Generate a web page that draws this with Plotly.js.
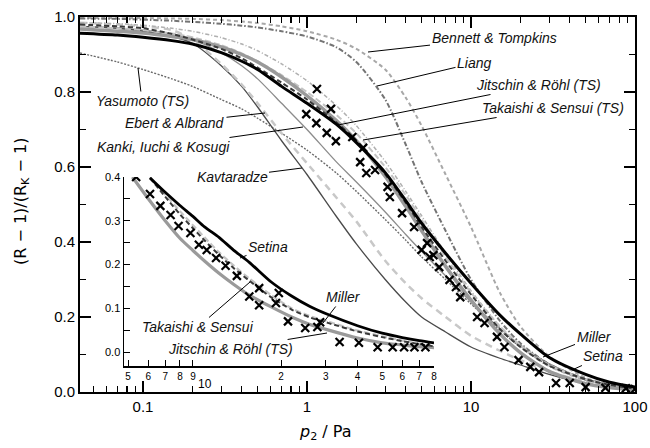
<!DOCTYPE html>
<html><head><meta charset="utf-8">
<script src="https://cdn.plot.ly/plotly-3.0.1.min.js"></script>
<style>html,body{margin:0;padding:0;background:#fff}</style>
</head><body><div id="chart" style="width:650px;height:448px"></div>
<script>
// ---- main plot data: p2 / Pa and (R-1)/(RK-1) ----
const pressure = [0.0413, 0.07, 0.1, 0.15, 0.2, 0.3, 0.4, 0.5, 0.7, 1, 1.5, 2, 3, 4, 5, 7, 10, 15, 20, 30, 50, 70, 100];
const setina      = [0.957,0.952,0.946,0.937,0.928,0.905,0.882,0.860,0.815,0.770,0.715,0.665,0.585,0.510,0.450,0.370,0.290,0.205,0.155,0.092,0.047,0.026,0.013];
const takaishi    = [0.968,0.962,0.957,0.948,0.940,0.920,0.900,0.880,0.840,0.790,0.725,0.670,0.575,0.495,0.430,0.335,0.245,0.155,0.105,0.055,0.022,0.012,0.006];
const miller      = [0.980,0.975,0.970,0.955,0.940,0.915,0.890,0.865,0.825,0.780,0.720,0.670,0.580,0.505,0.440,0.350,0.260,0.168,0.120,0.070,0.034,0.019,0.009];
const jitschin    = [0.975,0.970,0.965,0.956,0.946,0.925,0.903,0.882,0.845,0.800,0.740,0.690,0.600,0.525,0.460,0.360,0.265,0.175,0.125,0.072,0.034,0.019,0.009];
const takaishiTS  = [0.985,0.982,0.978,0.970,0.962,0.945,0.928,0.910,0.875,0.830,0.765,0.710,0.615,0.535,0.470,0.370,0.270,0.175,0.120,0.068,0.030,0.016,0.008];
const bennett     = [0.998,0.997,0.997,0.996,0.995,0.992,0.988,0.984,0.975,0.962,0.940,0.915,0.860,0.785,0.710,0.580,0.440,0.265,0.175,0.095,0.038,0.020,0.009];
const liang       = [0.996,0.995,0.993,0.990,0.987,0.982,0.977,0.972,0.962,0.948,0.920,0.880,0.780,0.660,0.560,0.430,0.300,0.190,0.130,0.074,0.034,0.018,0.008];
const kavtaradze  = [0.975,0.970,0.962,0.948,0.930,0.870,0.815,0.760,0.670,0.580,0.470,0.395,0.300,0.240,0.200,0.160,0.120,0.090,0.072,0.047,0.022,0.013,0.007];
const ebert       = [0.985,0.980,0.975,0.965,0.940,0.875,0.820,0.770,0.690,0.610,0.520,0.455,0.350,0.290,0.250,0.200,0.150,0.110,0.085,0.055,0.027,0.016,0.008];
const kanki       = [0.975,0.970,0.965,0.955,0.940,0.905,0.870,0.835,0.770,0.700,0.615,0.560,0.480,0.420,0.375,0.310,0.240,0.170,0.125,0.075,0.035,0.020,0.010];
const yasumoto    = [0.904,0.880,0.860,0.835,0.815,0.780,0.755,0.730,0.690,0.645,0.585,0.535,0.460,0.405,0.360,0.300,0.235,0.165,0.120,0.070,0.032,0.018,0.009];

const measP = [0.99,1.14,1.15,1.32,1.40,1.50,1.89,2.11,2.2,2.3,2.6,3.1,3.2,3.8,4.5,5.0,5.4,5.6,5.9,6.4,7.4,8.1,8.6,10.9,12.1,14.4,16,19.5,23,26,33,40,50,66,88,100];
const measV = [0.741,0.717,0.808,0.691,0.755,0.669,0.680,0.613,0.651,0.584,0.592,0.547,0.520,0.477,0.440,0.379,0.397,0.360,0.365,0.333,0.299,0.280,0.253,0.200,0.184,0.147,0.120,0.085,0.067,0.053,0.024,0.024,0.013,0.011,0.010,0.008];

// ---- inset data ----
const insetP        = [5.2, 6.1, 7, 8, 9, 10, 11.4, 13, 15, 18.3, 22, 26, 30.8, 40, 50, 60, 70, 80];
const insetSetina   = [null,0.398,0.365,0.335,0.310,0.286,0.262,0.233,0.205,0.160,0.128,0.104,0.085,0.060,0.043,0.033,0.026,0.021];
const insetTakaishi = [0.400,0.345,0.300,0.260,0.232,0.208,0.180,0.155,0.130,0.103,0.080,0.063,0.050,0.032,0.021,0.016,0.012,0.010];
const insetMiller   = [null,0.398,0.355,0.315,0.283,0.255,0.222,0.192,0.163,0.125,0.097,0.079,0.066,0.047,0.034,0.025,0.018,0.013];
const insetJitschin = [null,0.400,0.360,0.322,0.290,0.262,0.228,0.198,0.168,0.130,0.100,0.082,0.069,0.049,0.036,0.026,0.019,0.014];
const insetMeasP = [5.38,6.1,6.7,7.35,7.9,8.8,9.5,10.2,11.1,12.1,13.4,15,16.4,16.4,19.1,19.6,21.3,24.9,27.8,28.5,34,40.5,48,55,61,67,74];
const insetMeasV = [0.400,0.361,0.334,0.313,0.288,0.272,0.245,0.233,0.215,0.197,0.174,0.127,0.146,0.107,0.112,0.135,0.070,0.055,0.057,0.068,0.023,0.021,0.011,0.011,0.011,0.011,0.011];

// tick labels
const mainTickVals = [0.1, 1, 10, 100];
const mainTickText = ['0.1', '1', '10', '100'];
const insetTickVals = [5,6,7,8,9,20,30,40,50,60,70,80];
const insetTickText = ['5','6','7','8','9','2','3','4','5','6','7','8'];

function line(x, y, color, width, dash, xa, ya) {
  return {x: x, y: y, type: 'scatter', mode: 'lines', xaxis: xa || 'x', yaxis: ya || 'y',
    line: {color: color, width: width, dash: dash || 'solid', shape: 'spline', smoothing: 0.7},
    connectgaps: false, hoverinfo: 'skip', showlegend: false};
}
const traces = [
  line(pressure, yasumoto, '#6a6a6a', 1.4, '2px,1.5px'),
  line(pressure, kanki, '#8c8c8c', 1.3),
  line(pressure, kavtaradze, '#4a4a4a', 1.3),
  line(pressure, ebert, '#c8c8c8', 2.5, '7px,5px'),
  line(pressure, bennett, '#a8a8a8', 2, '4px,3px'),
  line(pressure, liang, '#747474', 2, '5px,2px,1.5px,2px'),
  line(pressure, takaishiTS, '#b0b0b0', 1.5, '4px,2px,1px,2px'),
  line(pressure, jitschin, '#c4c4c4', 2, '6px,3px'),
  line(pressure, takaishi, '#9a9a9a', 3.5),
  line(pressure, miller, '#3a3a3a', 2, '5px,3px'),
  line(pressure, setina, '#000000', 3),
  {x: measP, y: measV, type: 'scatter', mode: 'markers', showlegend: false, hoverinfo: 'skip',
    marker: {symbol: 'x-thin-open', size: 8, color: '#000', line: {color: '#000', width: 2.2}}},
  line(insetP, insetTakaishi, '#9a9a9a', 3.2, 'solid', 'x2', 'y2'),
  line(insetP, insetJitschin, '#c4c4c4', 2.2, '6px,3px', 'x2', 'y2'),
  line(insetP, insetMiller, '#3a3a3a', 2, '5px,3px', 'x2', 'y2'),
  line(insetP, insetSetina, '#000000', 2.8, 'solid', 'x2', 'y2'),
  {x: insetMeasP, y: insetMeasV, type: 'scatter', mode: 'markers', xaxis: 'x2', yaxis: 'y2', showlegend: false, hoverinfo: 'skip',
    marker: {symbol: 'x-thin-open', size: 8, color: '#000', line: {color: '#000', width: 2.2}}}
];

const L = 80, R = 635, T = 17, B = 392;
const px = v => (v - L) / (R - L);
const py = v => (B - v) / (B - T);
function label(text, cx, cy, tx, ty) {
  return {text: '<i>' + text + '</i>', xref: 'paper', yref: 'paper', x: px(tx), y: py(ty),
    ax: cx - tx, ay: cy - ty, axref: 'pixel', ayref: 'pixel', showarrow: true, arrowhead: 0,
    arrowwidth: 1, arrowcolor: '#000', standoff: 0, startstandoff: 0,
    font: {family: 'Liberation Sans, Arial, sans-serif', size: 14, color: '#111'}};
}
function plain(text, cx, cy, size, angle, family) {
  return {text: text, xref: 'paper', yref: 'paper', x: px(cx), y: py(cy), xanchor: 'center', yanchor: 'middle',
    textangle: angle || 0, showarrow: false, font: {family: family || 'Liberation Sans, Arial, sans-serif', size: size, color: '#000'}};
}
const annotations = [
  label('Bennett &amp; Tompkins', 494, 38, 368, 52),
  label('Liang', 474, 63, 377, 86),
  label('Jitschin &amp; Röhl (TS)', 538, 85, 338, 125),
  label('Takaishi &amp; Sensui (TS)', 553, 108, 363, 140),
  label('Yasumoto (TS)', 142, 101, 138, 68),
  label('Ebert &amp; Albrand', 175, 123, 265, 113),
  label('Kanki, Iuchi &amp; Kosugi', 163, 147, 303, 127),
  label('Kavtaradze', 232, 177, 302, 168),
  label('Setina', 268, 247, 240, 258),
  label('Miller', 343, 297, 323, 323),
  label('Takaishi &amp; Sensui', 198, 327, 250, 282),
  label('Jitschin &amp; Röhl (TS)', 230, 349, 327, 333),
  label('Miller', 594, 337, 543, 357),
  label('Setina', 603, 356, 572, 370),
  plain('10', 205, 384, 12),
  plain('(R − 1)/(R<sub>K</sub> − 1)', 22, 202, 16, -90, 'DejaVu Sans, sans-serif'),
  plain('<i>p</i><sub>2</sub> / Pa', 325, 432, 16, 0, 'DejaVu Sans, sans-serif')
];

const minorLog = [];
[0.01, 0.1, 1, 10].forEach(d => { for (let k = 2; k <= 9; k++) minorLog.push(+(k * d).toPrecision(2)); });

const layout = {
  width: 650, height: 448,
  margin: {l: L, r: 650 - R, t: T, b: 448 - B},
  paper_bgcolor: '#fff', plot_bgcolor: 'rgba(0,0,0,0)',
  font: {family: 'Liberation Sans, Arial, sans-serif', color: '#000'},
  showlegend: false,
  xaxis: {type: 'log', range: [-1.384, 2], tickmode: 'array', tickvals: mainTickVals, ticktext: mainTickText,
    ticks: 'inside', ticklen: 11, tickwidth: 1.5, tickcolor: '#000', showline: true, linewidth: 2, linecolor: '#000',
    mirror: 'ticks', showgrid: false, zeroline: false, tickfont: {size: 15},
    minor: {tickmode: 'array', tickvals: minorLog, ticks: 'inside', ticklen: 6, tickwidth: 1.2, tickcolor: '#000', showgrid: false}},
  yaxis: {range: [0, 1], dtick: 0.2, tick0: 0, tickformat: '.1f', ticks: 'inside', ticklen: 11, tickwidth: 1.5, tickcolor: '#000',
    showline: true, linewidth: 2, linecolor: '#000', mirror: 'ticks', showgrid: false, zeroline: false, tickfont: {size: 15},
    minor: {dtick: 0.1, ticks: 'inside', ticklen: 6, tickwidth: 1.2, tickcolor: '#000', showgrid: false}},
  xaxis2: {type: 'log', range: [0.683, 1.903], domain: [px(124), px(434)], anchor: 'y2',
    tickmode: 'array', tickvals: insetTickVals, ticktext: insetTickText, ticks: 'inside', ticklen: 6, tickwidth: 1, tickcolor: '#000',
    showline: true, linewidth: 1.5, linecolor: '#000', showgrid: false, zeroline: false, tickfont: {size: 10}},
  yaxis2: {range: [-0.032, 0.4], domain: [py(366), py(177)], anchor: 'x2', dtick: 0.1, tick0: 0, tickformat: '.1f',
    ticks: 'inside', ticklen: 6, tickwidth: 1, tickcolor: '#000', showline: true, linewidth: 1.5, linecolor: '#000',
    showgrid: false, zeroline: false, tickfont: {size: 11},
    minor: {dtick: 0.05, ticks: 'inside', ticklen: 6, tickwidth: 1, tickcolor: '#000', showgrid: false}},
  shapes: [{type: 'line', xref: 'x2', yref: 'y2 domain', x0: 1, x1: 1, y0: 0, y1: 0.065, line: {color: '#000', width: 1.2}}],
  annotations: annotations
};
Plotly.newPlot('chart', traces, layout, {staticPlot: true, displayModeBar: false});
</script></body></html>
